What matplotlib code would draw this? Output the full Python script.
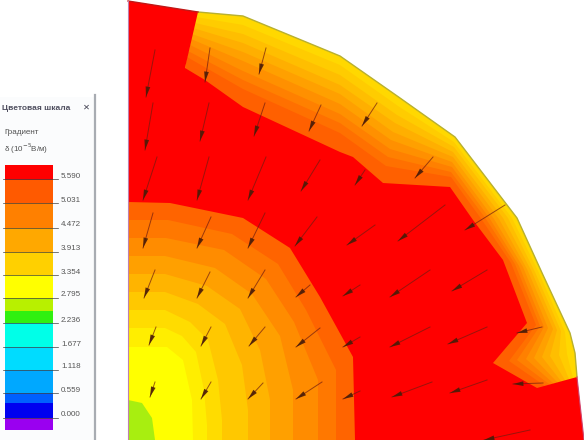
import matplotlib
matplotlib.use("Agg")
import matplotlib.pyplot as plt

plt.rcParams['font.family'] = ['Liberation Sans', 'DejaVu Sans']

# Colour scale
tick_labels = ["5.590", "5.031", "4.472", "3.913", "3.354", "2.795", "2.236", "1.677", "1.118", "0.559", "0.000"]
tick_y = [179, 203, 228, 252, 275, 298, 323, 347, 370, 393, 418]
band_edges = [165, 180, 203, 228, 252, 275, 298, 311, 323, 347, 370, 393, 403, 418, 430]
band_colors = ["#ff0000", "#ff5a00", "#ff8000", "#ffa800", "#ffd000", "#ffff00", "#b8f000",
               "#30f010", "#00ffe8", "#00dcff", "#00a8ff", "#0060ff", "#0000f0", "#9a00f0"]

# Domain outline (outer edge of the field)
outer_x = [198, 243, 340, 400, 455, 517, 543, 570, 575, 577]
outer_y = [12, 16, 56, 98, 137, 218, 275, 333, 353, 377]
field_x = [128] + outer_x + [584, 128]
field_y = [1] + outer_y + [440, 440]

# Outer band contours, from the edge inwards
ring_colors = ["#ffd800", "#ffcc00", "#ffbe00", "#ffaf00", "#ffa000", "#ff9000", "#ff8000", "#ff7000", "#ff6000"]
ring_x = [
    [198, 243, 340, 400, 455, 517, 543, 570, 575, 577, 560, 128],
    [196, 243, 340, 398, 454, 512, 539, 565, 567, 573, 560, 128],
    [195, 243, 340, 397, 454, 508, 535, 561, 559, 569, 560, 128],
    [193, 243, 340, 395, 453, 503, 531, 557, 550, 565, 560, 128],
    [192, 243, 340, 393, 453, 499, 527, 553, 542, 561, 560, 128],
    [191, 243, 340, 391, 452, 494, 523, 548, 534, 557, 560, 128],
    [190, 243, 340, 390, 452, 490, 519, 544, 526, 553, 560, 128],
    [188, 243, 340, 388, 451, 486, 515, 540, 517, 549, 560, 128],
    [187, 243, 340, 386, 451, 482, 511, 536, 509, 545, 560, 128],
]
ring_y = [
    [12, 16, 56, 98, 137, 218, 275, 333, 353, 377, 400, 440],
    [17, 25, 65, 106, 142, 218, 273, 332, 354, 378, 400, 440],
    [23, 34, 75, 115, 147, 218, 272, 331, 355, 379, 400, 440],
    [28, 43, 85, 123, 152, 218, 270, 330, 356, 380, 400, 440],
    [34, 52, 94, 132, 157, 219, 269, 329, 357, 381, 400, 440],
    [39, 61, 104, 140, 162, 219, 267, 328, 358, 382, 400, 440],
    [45, 71, 114, 149, 167, 219, 266, 327, 359, 383, 400, 440],
    [51, 80, 123, 157, 172, 219, 264, 326, 360, 384, 400, 440],
    [57, 89, 133, 166, 177, 220, 263, 325, 361, 386, 400, 440],
]

# Red region
red_x = [128, 198, 185, 205, 243, 340, 353, 383, 450, 473, 503, 527, 493, 537, 577, 584, 128]
red_y = [1, 12, 68, 80, 107, 152, 157, 183, 187, 220, 260, 323, 363, 388, 377, 440, 440]

# Inner contours around the lower-left corner
blob_colors = ["#ff6400", "#ff7800", "#ff8c00", "#ffa000", "#ffb400", "#ffc800", "#ffdc00", "#ffee00", "#ffff00", "#a8ee10"]
blob_x = [
    [128, 170, 243, 290, 320, 353, 355, 128],
    [128, 168, 232, 278, 306, 336, 336, 128],
    [128, 166, 224, 266, 294, 318, 318, 128],
    [128, 165, 215, 252, 280, 293, 293, 128],
    [128, 165, 207, 240, 260, 270, 270, 128],
    [128, 165, 198, 225, 242, 248, 248, 128],
    [128, 165, 190, 208, 218, 222, 222, 128],
    [128, 165, 182, 196, 204, 207, 207, 128],
    [128, 167, 183, 192, 193, 128],
    [128, 142, 152, 155, 128],
]
blob_y = [
    [202, 203, 218, 248, 297, 357, 440, 440],
    [220, 220, 234, 264, 310, 370, 440, 440],
    [238, 238, 250, 279, 322, 380, 440, 440],
    [256, 256, 268, 294, 336, 390, 440, 440],
    [274, 274, 286, 309, 350, 400, 440, 440],
    [292, 292, 304, 324, 365, 410, 440, 440],
    [310, 310, 322, 340, 380, 420, 440, 440],
    [328, 328, 336, 352, 390, 425, 440, 440],
    [347, 347, 360, 400, 440, 440],
    [400, 403, 418, 440, 440],
]

# Gradient arrows: tails and tips
tail_x = [155, 210, 266, 153, 209, 265, 321, 377, 157, 209, 266, 320, 365, 433,
          153, 211, 265, 317, 375, 445, 505, 155, 210, 265, 310, 360, 430, 487,
          156, 211, 265, 320, 360, 430, 487, 542, 155, 211, 263, 322, 360, 432, 487, 543, 530]
tail_y = [50, 48, 48, 103, 103, 103, 105, 103, 157, 157, 157, 160, 170, 157,
          213, 217, 213, 217, 225, 205, 205, 270, 272, 270, 285, 285, 270, 270,
          327, 327, 327, 328, 337, 327, 327, 327, 382, 382, 383, 382, 391, 382, 380, 383, 430]
tip_x = [146, 205, 259, 145, 200, 254, 309, 362, 143, 197, 248, 301, 355, 415,
         143, 197, 248, 295, 347, 398, 465, 144, 197, 248, 296, 343, 390, 452,
         149, 201, 249, 296, 343, 390, 448, 517, 150, 201, 248, 296, 343, 392, 450, 513, 484]
tip_y = [97, 82, 74, 150, 141, 136, 131, 126, 200, 200, 200, 191, 185, 178,
         248, 248, 248, 246, 245, 241, 230, 298, 298, 298, 297, 296, 297, 291,
         345, 346, 346, 347, 347, 347, 344, 333, 397, 399, 399, 399, 399, 397, 393, 384, 440]

fig = plt.figure(figsize=(5.84, 4.40), dpi=100)
ax = fig.add_axes([0, 0, 1, 1])
ax.set_xlim(0, 584)
ax.set_ylim(440, 0)
ax.axis("off")

# Field
ax.fill(field_x, field_y, color="#ffd800", lw=0, zorder=1)
for c, x, y in zip(ring_colors, ring_x, ring_y):
    ax.fill(x, y, color=c, lw=0, zorder=2)
ax.fill(red_x, red_y, color="#ff0000", lw=0, zorder=3)
for c, x, y in zip(blob_colors, blob_x, blob_y):
    ax.fill(x, y, color=c, lw=0, zorder=4)
ax.plot(outer_x, outer_y, color="#b8b030", lw=1.0, zorder=5)
ax.plot(field_x[:2], field_y[:2], color="#c01818", lw=1.0, zorder=5)
ax.plot(field_x[-3:-1], field_y[-3:-1], color="#d04070", lw=0.8, zorder=5)
ax.plot([128, 128], [1, 440], color="#c080b0", lw=0.8, zorder=5)

for x0, y0, x1, y1 in zip(tail_x, tail_y, tip_x, tip_y):
    ax.plot([x0, x1], [y0, y1], color="#701c10", lw=0.7, alpha=0.7, zorder=6)
    ax.annotate("", xy=(x1, y1), xytext=(x0, y0), zorder=7,
                arrowprops=dict(arrowstyle="-|>,head_length=0.75,head_width=0.17",
                                lw=0, color="#4a1c08", alpha=0.9,
                                shrinkA=0, shrinkB=0))

# Legend window
ax.fill([0, 95, 95, 0], [97, 97, 440, 440], color="#fbfcfd", lw=0, zorder=1)
ax.fill([0, 95, 95, 0], [100, 120, 120, 100], color="#dfe3e8", lw=0, zorder=2)
ax.plot([95, 95], [95, 440], color="#a8acb2", lw=1.6, zorder=3)
ax.text(2, 108, "Цветовая шкала", fontsize=6, fontweight="bold", color="#505060", va="center", zorder=4)
ax.text(86, 107, "✕", fontsize=6, color="#404050", ha="center", va="center",
        family=["DejaVu Sans"], zorder=4)
ax.text(4, 133, "Градиент", fontsize=5.8, color="#505050", va="center", zorder=4)
ax.text(4, 149, "δ (10$^{-5}$В/м)", fontsize=5.8, color="#505050", va="center", zorder=4)

for i, c in enumerate(band_colors):
    ax.fill([5, 53, 53, 5], [band_edges[i], band_edges[i], band_edges[i + 1], band_edges[i + 1]],
            color=c, lw=0, zorder=2)
for y, lab in zip(tick_y, tick_labels):
    ax.plot([3, 58], [y, y], color="#404040", lw=0.5, zorder=3)
    ax.text(61, y - 3, lab, fontsize=5.8, color="#555555", va="center", zorder=4)

fig.savefig("out.png", dpi=100)
